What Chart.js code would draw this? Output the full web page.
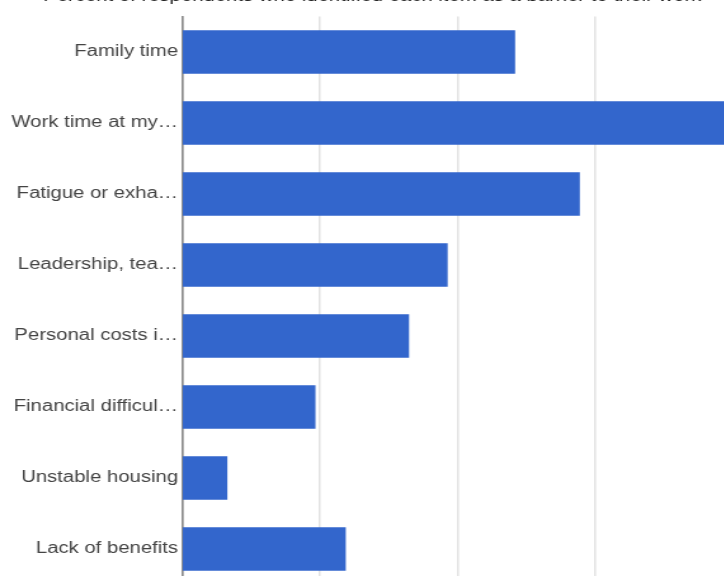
<!DOCTYPE html>
<html lang="en">

<head>
    <meta charset="UTF-8" />
    <meta name="viewport" content="width=device-width, initial-scale=1.0" />
    <title>Barriers</title>
    <script src="https://cdn.jsdelivr.net/npm/chart.js"></script>
    <style>
        html, body { margin: 0; padding: 0; background: #fff; overflow: hidden; }
        .chart-container { position: absolute; left: 0; top: 0; }
    </style>
</head>

<body>
    <div class="chart-container">
        <!-- canvas is drawn narrow and stretched sideways, like the original export -->
        <canvas id="bar-chart" width="620" height="600" style="width: 787.4px; height: 600px;"></canvas>
    </div>

    <script>
        const chartTitle = 'Percent of respondents who identified each item as a barrier to their work'
        const barriers = [
            'Family time',
            'Work time at my…',
            'Fatigue or exha…',
            'Leadership, tea…',
            'Personal costs i…',
            'Financial difficul…',
            'Unstable housing',
            'Lack of benefits'
        ]
        const percents = [24.2, 41, 28.9, 19.3, 16.5, 9.7, 3.3, 11.9]
        const xTicks = [0, 10, 20, 30, 40]

        // title sits mostly above the top edge, only the bottom of it shows
        const titlePlugin = {
            id: 'cutTitle',
            afterDraw(chart) {
                const ctx = chart.ctx
                ctx.save()
                ctx.fillStyle = '#222'
                ctx.font = '16px "Liberation Sans", Arial, sans-serif'
                ctx.textAlign = 'left'
                ctx.textBaseline = 'alphabetic'
                ctx.fillText(chartTitle, 34, 0.6, 529)
                ctx.restore()
            }
        }

        const ctx = document.getElementById('bar-chart').getContext('2d')
        const barChart = new Chart(ctx, {
            type: 'bar',
            data: {
                labels: barriers,
                datasets: [{
                    data: percents,
                    backgroundColor: '#3366cc',
                    borderWidth: 0,
                    categoryPercentage: 1,
                    barPercentage: 0.61
                }]
            },
            options: {
                indexAxis: 'y',
                responsive: false,
                animation: false,
                layout: { padding: { left: 0, right: 42.8, top: 16.5, bottom: 15.5 } },
                plugins: {
                    legend: { display: false },
                    tooltip: { enabled: false },
                    title: { display: false }
                },
                scales: {
                    x: {
                        min: xTicks[0],
                        max: xTicks[xTicks.length - 1],
                        afterBuildTicks(scale) {
                            scale.ticks = xTicks.map(v => ({ value: v }))
                        },
                        ticks: { display: false },
                        border: { display: false },
                        grid: { color: '#e2e2e2', lineWidth: 1.5, drawTicks: false }
                    },
                    y: {
                        afterFit(scale) { scale.width = 143.3 },
                        ticks: {
                            color: '#444',
                            padding: 3,
                            font: { family: '"Liberation Sans", Arial, sans-serif', size: 16 }
                        },
                        border: { display: true, color: '#8a8a8a', width: 1.6 },
                        grid: { drawOnChartArea: false, drawTicks: false }
                    }
                }
            },
            plugins: [titlePlugin]
        })
    </script>
</body>

</html>
